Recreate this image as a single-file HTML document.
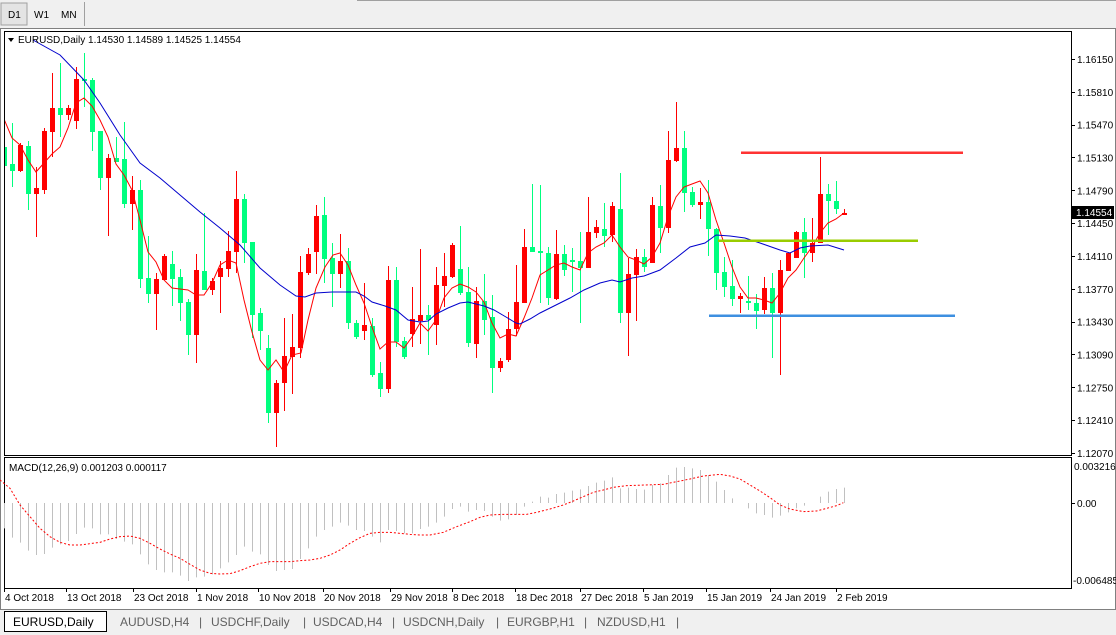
<!DOCTYPE html>
<html><head><meta charset="utf-8">
<style>
html,body{margin:0;padding:0;width:1116px;height:635px;overflow:hidden;background:#f0f0f0;font-family:"Liberation Sans",sans-serif;}
#wrap{position:relative;width:1116px;height:635px;}
svg{position:absolute;left:0;top:0;}
</style></head>
<body><div id="wrap">
<svg id="s" width="1116" height="635" xmlns="http://www.w3.org/2000/svg" font-family="Liberation Sans, sans-serif" font-size="10">
<rect x="0" y="0" width="1116" height="635" fill="#f0f0f0"/>
<!-- toolbar -->
<rect x="1" y="3" width="26" height="22" fill="#e4e4e4" stroke="#a0a0a0"/>
<text x="8" y="18" font-size="10" fill="#000">D1</text>
<text x="34" y="18" font-size="10" fill="#000">W1</text>
<text x="61" y="18" font-size="10" fill="#000">MN</text>
<line x1="84.5" y1="2" x2="84.5" y2="26" stroke="#a0a0a0"/>
<line x1="357" y1="0.5" x2="1116" y2="0.5" stroke="#a0a0a0"/>
<!-- chart area -->
<rect x="0" y="28" width="1116" height="582" fill="#fff"/>
<rect x="0.5" y="28.5" width="1115" height="581" fill="none" stroke="#808080"/>
<rect x="4.5" y="31.5" width="1067" height="424" fill="#fff" stroke="#000"/>
<rect x="4.5" y="457.5" width="1067" height="131" fill="#fff" stroke="#000"/>
<g id="g"></g>
<!-- header -->
<path d="M8 38 L14 38 L11 42 Z" fill="#000"/>
<text x="18" y="43" fill="#000">EURUSD,Daily  1.14530 1.14589 1.14525 1.14554</text>
<text x="9" y="471" fill="#000">MACD(12,26,9) 0.001203 0.000117</text>
<!-- tabs -->
<rect x="0" y="610" width="1116" height="25" fill="#f0f0f0"/>
<rect x="4.5" y="611.5" width="102" height="20" fill="#fff" stroke="#000"/>
<text x="13" y="626" font-size="12" fill="#000">EURUSD,Daily</text>
<g font-size="12" fill="#606060">
<text x="120" y="626">AUDUSD,H4</text><text x="199" y="626">|</text>
<text x="211" y="626">USDCHF,Daily</text><text x="303" y="626">|</text>
<text x="313" y="626">USDCAD,H4</text><text x="392" y="626">|</text>
<text x="403" y="626">USDCNH,Daily</text><text x="496" y="626">|</text>
<text x="507" y="626">EURGBP,H1</text><text x="584" y="626">|</text>
<text x="597" y="626">NZDUSD,H1</text><text x="676" y="626">|</text>
</g>
</svg>
<script>
var C=[[4,147,166,130,207,'g'],[12,164,171,123,187,'g'],[20,145,171,143,172,'r'],[28,146,194,141,210,'g'],[36,188,194,167,237,'r'],[44,131,190,128,194,'r'],[52,108,132,73,157,'r'],[60,108,115,63,137,'g'],[68,108,115,105,120,'r'],[76,79,121,67,129,'r'],[84,79,81,53,107,'g'],[92,80,132,78,151,'g'],[100,131,178,131,190,'g'],[108,158,178,154,236,'r'],[116,158,162,137,162,'g'],[124,159,204,122,208,'g'],[132,190,204,176,230,'r'],[140,190,279,180,288,'g'],[148,278,294,236,303,'g'],[156,279,294,273,330,'r'],[164,256,280,254,280,'r'],[172,264,279,251,306,'g'],[180,277,303,269,321,'g'],[188,302,335,299,355,'g'],[196,270,335,254,363,'r'],[204,271,290,213,290,'g'],[212,281,290,278,295,'r'],[220,268,277,261,313,'r'],[228,251,269,231,277,'r'],[236,199,252,171,273,'r'],[244,199,243,194,263,'g'],[252,242,315,242,338,'g'],[260,313,331,308,350,'g'],[268,348,413,335,423,'g'],[276,383,413,380,447,'r'],[284,356,383,318,411,'r'],[292,347,357,314,394,'r'],[300,272,348,256,358,'r'],[308,254,273,248,275,'r'],[316,216,252,205,274,'r'],[324,215,259,197,283,'g'],[332,258,274,243,307,'g'],[340,261,274,234,288,'r'],[348,261,323,248,329,'g'],[356,323,337,320,339,'g'],[364,325,331,283,340,'r'],[372,326,375,318,377,'g'],[380,373,389,362,397,'g'],[388,280,389,266,393,'r'],[396,280,342,267,347,'g'],[404,341,357,337,359,'g'],[412,319,334,287,347,'r'],[420,315,321,249,344,'r'],[428,315,320,305,355,'g'],[436,285,325,267,345,'r'],[444,276,286,253,307,'r'],[452,245,277,243,278,'r'],[460,269,293,226,295,'g'],[468,292,343,267,347,'g'],[476,301,344,287,358,'r'],[484,301,320,274,335,'g'],[492,317,368,295,393,'g'],[500,361,368,358,372,'r'],[508,329,360,312,362,'r'],[516,302,329,265,336,'r'],[524,247,303,229,303,'r'],[532,247,252,184,252,'g'],[540,251,253,185,303,'g'],[548,253,298,247,305,'g'],[556,254,299,230,300,'r'],[564,254,270,245,276,'g'],[572,260,262,248,292,'g'],[580,261,268,232,323,'g'],[588,232,268,197,268,'r'],[596,227,233,220,238,'r'],[604,229,236,203,247,'g'],[612,206,235,202,242,'r'],[620,209,313,173,323,'g'],[628,274,313,258,356,'r'],[636,257,275,249,321,'r'],[644,257,267,249,272,'g'],[652,205,263,197,263,'r'],[660,206,228,185,253,'g'],[668,160,228,131,233,'r'],[676,148,161,102,162,'r'],[684,148,193,131,212,'g'],[692,192,205,187,207,'g'],[700,202,205,188,219,'r'],[708,202,229,180,256,'g'],[716,229,273,228,290,'g'],[724,272,287,257,297,'g'],[732,286,299,260,306,'g'],[740,296,299,293,313,'r'],[748,301,303,276,310,'g'],[756,303,311,294,329,'g'],[764,288,310,277,314,'r'],[772,288,313,273,358,'g'],[780,270,313,260,375,'r'],[788,253,271,253,271,'r'],[796,232,258,231,258,'r'],[804,232,253,218,278,'g'],[812,243,253,218,262,'r'],[820,194,243,157,243,'r'],[828,194,201,184,235,'g'],[836,201,209,181,214,'g'],[844,213,215,209,215,'r']];
var RM=[[4,119],[12,138],[20,145],[28,160],[36,172],[44,163],[52,154],[60,147],[68,128],[76,103],[84,98],[92,106],[100,120],[108,137],[116,164],[124,175],[132,190],[140,220],[148,252],[156,262],[164,280],[172,288],[180,289],[188,290],[196,295],[204,295],[212,283],[220,265],[228,260],[236,263],[244,300],[252,332],[260,360],[268,370],[276,360],[284,372],[292,355],[301,353],[308,320],[316,288],[325,267],[333,255],[340,253],[348,265],[356,285],[364,303],[372,327],[380,349],[388,342],[396,342],[404,348],[412,337],[420,323],[428,331],[436,320],[444,298],[452,288],[460,284],[468,287],[476,292],[484,302],[492,323],[500,338],[508,334],[516,336],[524,318],[532,298],[540,275],[548,270],[556,265],[564,263],[572,267],[580,270],[588,253],[596,247],[604,243],[612,235],[620,247],[628,257],[636,260],[644,264],[652,257],[660,243],[668,217],[676,197],[684,187],[692,184],[700,181],[708,193],[716,220],[724,243],[732,267],[740,287],[748,298],[756,298],[764,300],[772,303],[780,293],[788,278],[796,270],[804,258],[812,247],[820,233],[828,223],[836,219],[844,213]];
var BM=[[33,40],[60,55],[84,80],[100,103],[120,135],[140,163],[160,178],[180,195],[200,212],[220,228],[240,245],[260,268],[280,285],[296,296],[305,297],[316,293],[332,292],[356,292],[364,296],[372,302],[385,306],[396,310],[408,320],[420,322],[428,321],[436,314],[448,308],[460,303],[468,302],[476,304],[484,306],[494,310],[506,317],[516,323],[520,324],[530,319],[540,313],[556,305],[570,298],[584,290],[600,283],[612,280],[620,282],[632,278],[644,276],[660,270],[676,258],[690,247],[705,243],[716,235],[730,236],[745,238],[760,243],[780,250],[790,253],[800,248],[810,246],[828,245],[844,250]];
var H1=[220,248,263,287,300,297,278,268,258,237,218,220,238,238,252,260,268,298,328,345,352,352,362,378,367,365,358,340,322,300,275,290,298,330,348,345,342,312,280,245,225,215,203,212,225,228,245,262,225,228,235,235,222,215];
var H2=[203,185,162,155,170,165,168,185,197,193,180,155,140,125,128,117,113,107,103,93,83,77,67,100,98,102,104,90,85,60,38,36,40,45,60,80,105,130,145,160,175,180,188,182,172,160,152,145,125,110,102,98];
var S1=[[0,75],[30,100],[60,150],[90,185],[120,220],[150,245],[180,262],[210,270],[240,270],[270,266],[300,262],[330,252],[360,245],[390,243],[420,250],[450,265],[480,282],[510,297],[540,310],[570,328],[600,345],[630,355],[660,357],[690,356],[720,347],[750,335],[780,325],[810,320],[840,320],[870,320],[900,317],[930,315],[960,310],[990,300],[1020,285],[1050,265],[1080,248],[1110,235],[1140,232],[1170,232],[1200,235],[1230,238],[1260,240],[1290,240]];
var S2=[[40,232],[80,215],[120,200],[150,187],[180,180],[220,178],[290,178],[320,172],[360,162],[400,150],[430,138],[460,125],[490,112],[520,105],[550,97],[590,92],[700,88],[740,80],[780,72],[820,63],[870,58],[900,63],[930,72],[960,90],[990,108],[1020,128],[1050,150],[1080,162],[1120,170],[1160,168],[1190,160],[1220,152],[1240,143]];
var o='';
o+='<clipPath id="cp"><rect x="5" y="32" width="1066" height="423"/></clipPath>';
o+='<g clip-path="url(#cp)">';
C.forEach(function(c){var col=c[5]=='g'?'#00ff7f':'#ff0000';
o+='<line x1="'+(c[0]+.5)+'" y1="'+c[3]+'" x2="'+(c[0]+.5)+'" y2="'+c[4]+'" stroke="'+col+'"/>';
var h=Math.max(1,c[2]-c[1]);o+='<rect x="'+(c[0]-2)+'" y="'+c[1]+'" width="5" height="'+h+'" fill="'+col+'"/>';});
function pl(a,col,extra){return '<polyline fill="none" stroke="'+col+'" stroke-width="1" '+(extra||'')+' points="'+a.map(function(p){return p[0]+','+p[1]}).join(' ')+'"/>';}
o+=pl(RM,'#ff0000');o+=pl(BM,'#0000cc');
o+='</g>';
o+='<rect x="741" y="151.5" width="222" height="2.5" fill="#ff3333"/>';
o+='<rect x="718" y="239.5" width="200" height="2.5" fill="#99cc00"/>';
o+='<rect x="709" y="314.5" width="246" height="2.5" fill="#3d8fe0"/>';
// price axis
var L=['1.16150','1.15810','1.15470','1.15130','1.14790','1.14450','1.14110','1.13770','1.13430','1.13090','1.12750','1.12410','1.12070'];
L.forEach(function(t,i){var y=59+32.83*i;o+='<line x1="1071" y1="'+Math.round(y)+'.5" x2="1075" y2="'+Math.round(y)+'.5" stroke="#000"/>';o+='<text x="1077" y="'+(y+4)+'" fill="#000">'+t+'</text>';});
o+='<rect x="1072" y="206" width="42" height="13" fill="#000"/><text x="1076" y="216" fill="#fff">1.14554</text>';
o+='<text x="1074" y="470" fill="#000">0.003216</text><text x="1077" y="507" fill="#000">0.00</text><text x="1073" y="584" fill="#000">-0.006485</text>';
o+='<line x1="1071" y1="503.5" x2="1075" y2="503.5" stroke="#000"/>';
// MACD
o+='<g stroke="#c0c0c0" stroke-width="1">';
H1.forEach(function(v,i){var x=4+i*8+.5;var y=455+v/3;o+='<line x1="'+x+'" y1="503" x2="'+x+'" y2="'+y+'"/>';});
H2.forEach(function(v,i){var x=436+i*8+.5;var y=455+v/3;if(Math.abs(y-503)>1)o+='<line x1="'+x+'" y1="503" x2="'+x+'" y2="'+y+'"/>';});
o+='</g>';
var S=S1.map(function(p){return [p[0]/3,455+p[1]/3]}).concat(S2.map(function(p){return [430+p[0]/3,455+p[1]/3]}));
o+=pl(S,'#ff0000','stroke-dasharray="2,2"');
// time axis
var T=[[4,'4 Oct 2018'],[66,'13 Oct 2018'],[133,'23 Oct 2018'],[196,'1 Nov 2018'],[258,'10 Nov 2018'],[323,'20 Nov 2018'],[390,'29 Nov 2018'],[452,'8 Dec 2018'],[515,'18 Dec 2018'],[580,'27 Dec 2018'],[643,'5 Jan 2019'],[706,'15 Jan 2019'],[770,'24 Jan 2019'],[836,'2 Feb 2019']];
T.forEach(function(t){o+='<line x1="'+(t[0]+.5)+'" y1="588" x2="'+(t[0]+.5)+'" y2="592" stroke="#000"/><text x="'+(t[0]+1)+'" y="601" fill="#000">'+t[1]+'</text>';});
document.getElementById('g').innerHTML=o;
</script>
</div></body></html>
